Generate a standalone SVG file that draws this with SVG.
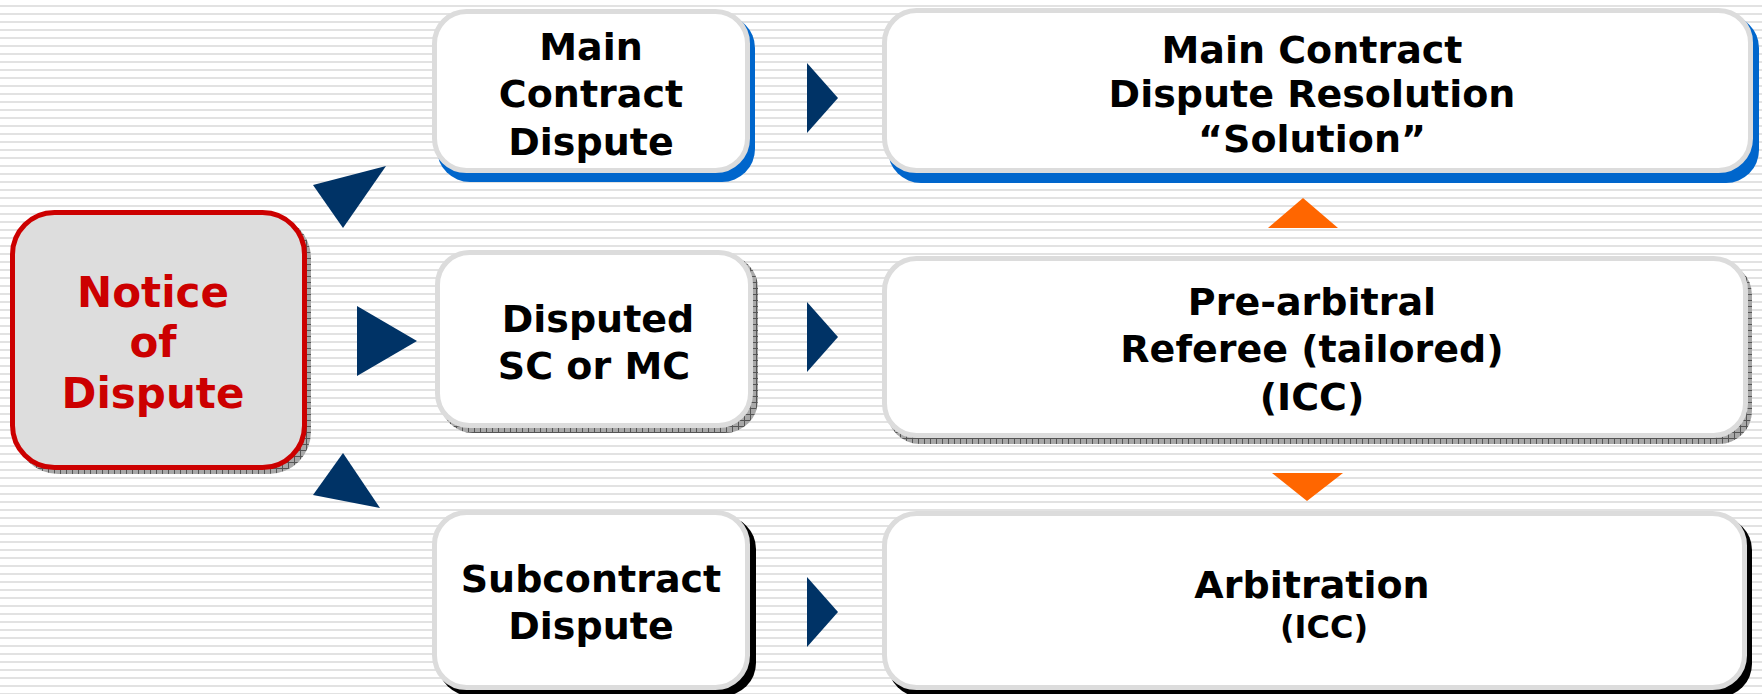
<svg xmlns="http://www.w3.org/2000/svg" width="1762" height="694" viewBox="0 0 1762 694">
<defs>
<pattern id="stripes" x="0" y="0" width="8" height="8" patternUnits="userSpaceOnUse">
<rect width="8" height="8" fill="#ffffff"/>
<rect y="5" width="8" height="2" fill="#e2e2e2"/>
</pattern>
<pattern id="hatch" x="0" y="0" width="6" height="6" patternUnits="userSpaceOnUse">
<rect width="6" height="6" fill="#a8a8a8"/>
<path d="M0 0.5H6M0.5 0V6" stroke="#555" stroke-width="1"/>
</pattern>
</defs>
<style>
.box{fill:#ffffff;stroke:#dcdcdc;stroke-width:5}
.t{font-family:"DejaVu Sans",Verdana,sans-serif;font-weight:bold;font-size:38px;fill:#000;text-anchor:middle}
.red{fill:#cc0000;font-size:42px}
.nav{fill:#003366}
.org{fill:#ff6600}
</style>
<rect width="1762" height="694" fill="url(#stripes)"/>

<g id="notice">
<rect x="16" y="216" width="295" height="258" rx="42" fill="url(#hatch)"/>
<rect x="12.5" y="212.5" width="292" height="255" rx="42" fill="#dddddd" stroke="#cc0000" stroke-width="5"/>
<text class="t red" x="153" y="307">Notice</text>
<text class="t red" x="153" y="357">of</text>
<text class="t red" x="153" y="408">Dispute</text>
</g>

<g id="main-contract-dispute">
<rect x="437" y="15" width="318" height="167" rx="33" fill="#0066cc"/>
<rect class="box" x="434.5" y="11.5" width="313" height="159" rx="32"/>
<text class="t" x="591" y="60">Main</text>
<text class="t" x="591" y="107">Contract</text>
<text class="t" x="591" y="155">Dispute</text>
</g>

<g id="disputed-sc-mc">
<rect x="440" y="255" width="318" height="178" rx="33" fill="url(#hatch)"/>
<rect class="box" x="437.5" y="252.5" width="313" height="173" rx="32"/>
<text class="t" x="598" y="332">Disputed</text>
<text class="t" x="594" y="379">SC or MC</text>
</g>

<g id="subcontract-dispute">
<rect x="438" y="516" width="318" height="180" rx="33" fill="#000000"/>
<rect class="box" x="434.5" y="512.5" width="313" height="175" rx="32"/>
<text class="t" x="591" y="592">Subcontract</text>
<text class="t" x="591" y="639">Dispute</text>
</g>

<g id="main-contract-resolution">
<rect x="888" y="15" width="871" height="168" rx="33" fill="#0066cc"/>
<rect class="box" x="884.5" y="10.5" width="866" height="160" rx="32"/>
<text class="t" x="1312" y="63">Main Contract</text>
<text class="t" x="1312" y="107">Dispute Resolution</text>
<text class="t" x="1312" y="152">“Solution”</text>
</g>

<g id="pre-arbitral">
<rect x="887" y="262" width="865" height="182" rx="33" fill="url(#hatch)"/>
<rect class="box" x="884.5" y="258.5" width="861" height="177" rx="32"/>
<text class="t" x="1312" y="315">Pre-arbitral</text>
<text class="t" x="1312" y="362">Referee (tailored)</text>
<text class="t" x="1312" y="410">(ICC)</text>
</g>

<g id="arbitration">
<rect x="888" y="517" width="864" height="180" rx="33" fill="#000000"/>
<rect class="box" x="884.5" y="513.5" width="860" height="174" rx="32"/>
<text class="t" x="1312" y="598">Arbitration</text>
<text class="t" x="1324" y="638" style="font-size:32px">(ICC)</text>
</g>

<g id="connectors">
<polygon class="nav" points="313,185 386,166 343,228"/>
<polygon class="nav" points="357,306 417,341 357,376"/>
<polygon class="nav" points="343,453 313,495 380,508"/>
<polygon class="nav" points="807,63 838,98 807,133"/>
<polygon class="nav" points="807,302 838,337 807,372"/>
<polygon class="nav" points="807,577 838,612 807,647"/>
<polygon class="org" points="1268,228 1303,198 1338,228"/>
<polygon class="org" points="1272,473 1343,473 1307,501"/>
</g>
</svg>
